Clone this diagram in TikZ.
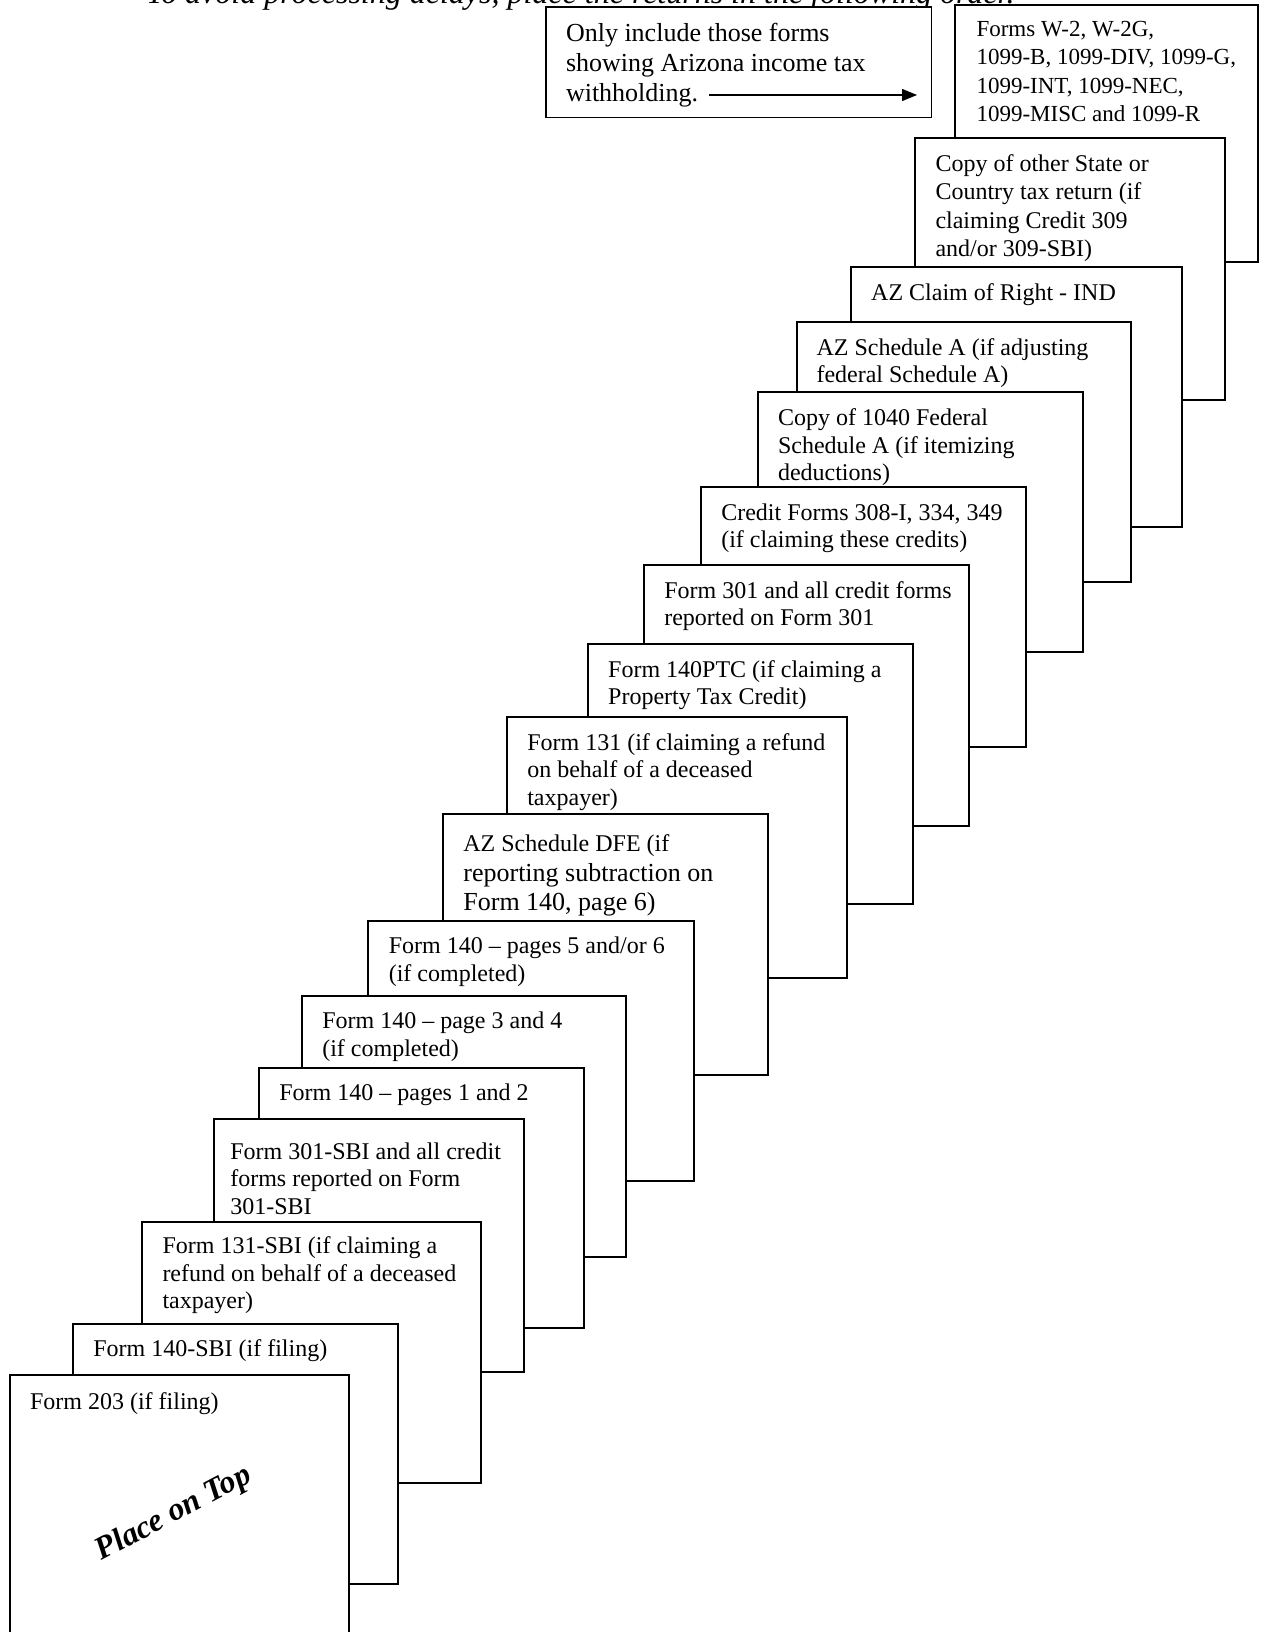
\documentclass[tikz,border=0pt]{standalone}
\usepackage{fontspec}
\setmainfont{Liberation Serif}
\usetikzlibrary{arrows.meta}
\newcommand\tlines[1]{\begin{tabular}[t]{@{}l@{}}#1\end{tabular}}
\tikzset{
  formbox/.style={draw=black, line width=1pt, fill=white, inner sep=0pt, outer sep=0pt, anchor=north west},
  notebox/.style={draw=black, line width=0.6pt, fill=white, inner sep=0pt, outer sep=0pt, anchor=north west},
  formtext/.style={inner sep=0pt, outer sep=0pt, anchor=base west, font=\fontsize{12}{13.8}\selectfont},
  notearrow/.style={line width=0.65pt, -{Triangle[length=7.5pt,width=6pt]}},
}
% #1 extra text style, #2 name, #3 L, #4 T, #5 R, #6 B, #7 text inset (px), #8 first baseline (px), #9 text
\newcommand\stackpage[9][]{%
  \node[formbox, minimum width={(#5-#3)*0.5pt}, minimum height={(#6-#4)*0.5pt}] (#2) at (#3,#4) {};
  \node[formtext, #1] (#2-text) at ([xshift={#7*0.5pt}, yshift={-#8*0.5pt}]#2.north west) {\tlines{#9}};
}
\begin{document}
\begin{tikzpicture}[x=0.5pt, y=-0.5pt]
\useasboundingbox (0,0) rectangle (1264,1632);

% title (cut off by the top edge)
\node[inner sep=0pt, anchor=base west, font=\fontsize{16}{18}\selectfont\itshape] (title) at (146,4)
  {To avoid processing delays, place the returns in the following order.};

% note box with arrow
\node[notebox, minimum width={(931.5-546)*0.5pt}, minimum height={(117.5-7)*0.5pt}] (note) at (546,7) {};
\node[formtext, font=\fontsize{13}{15}\selectfont] (note-text) at ([xshift=10pt, yshift=-17.35pt]note.north west)
  {\tlines{Only include those forms\\ showing Arizona income tax\\ withholding.}};
\coordinate (arrS) at (709,95);
\coordinate (arrE) at (917,95);
\draw[notearrow] (arrS) -- (arrE);

% stack of forms, back to front
\stackpage[font=\fontsize{11.5}{14.15}\selectfont]{w2}{955}{5}{1258}{262}{21.5}{31.7}%
  {Forms W-2, W-2G,\\ 1099-B, 1099-DIV, 1099-G,\\ 1099-INT, 1099-NEC,\\ 1099-MISC and 1099-R}
\stackpage[font=\fontsize{12}{14.15}\selectfont]{other}{915}{138}{1224.5}{400}{20.5}{33.7}%
  {Copy of other State or\\ Country tax return (if\\ claiming Credit 309\\ and/or 309-SBI)}
\stackpage{claim}{850.7}{266.7}{1181.5}{526.7}{20.5}{33.3}%
  {AZ Claim of Right - IND}
\stackpage{schA}{796.5}{321.7}{1131}{581.7}{20}{33.3}%
  {AZ Schedule A (if adjusting\\ federal Schedule A)}
\stackpage{fed}{757.5}{391.5}{1082.8}{651.7}{20.5}{34}%
  {Copy of 1040 Federal\\ Schedule A (if itemizing\\ deductions)}
\stackpage{credit}{700.8}{487.3}{1026.2}{747}{20.5}{33}%
  {Credit Forms 308-I, 334, 349\\ (if claiming these credits)}
\stackpage{f301}{643.8}{565.3}{969}{826}{20.5}{33}%
  {Form 301 and all credit forms\\ reported on Form 301}
\stackpage{ptc}{587.7}{644.3}{913}{904.3}{20.5}{33}%
  {Form 140PTC (if claiming a\\ Property Tax Credit)}
\stackpage{f131}{506.8}{717.3}{847}{977.7}{20.5}{33}%
  {Form 131 (if claiming a refund\\ on behalf of a deceased\\ taxpayer)}
\stackpage[font=\fontsize{12}{14.8}\selectfont]{dfe}{442.9}{814.3}{767.9}{1075}{20.5}{37.4}%
  {AZ Schedule DFE (if\\ \fontsize{13}{14.8}\selectfont reporting subtraction on\\ \fontsize{13}{14.8}\selectfont Form 140, page 6)}
\stackpage{p56}{368.3}{920.7}{693.8}{1181}{20.5}{33}%
  {Form 140 -- pages 5 and/or 6\\ (if completed)}
\stackpage{p34}{301.8}{995.7}{626.3}{1256.7}{20.5}{33}%
  {Form 140 -- page 3 and 4\\ (if completed)}
\stackpage{p12}{258.9}{1067.7}{584}{1328.3}{20.5}{32.5}%
  {Form 140 -- pages 1 and 2}
\stackpage{sbi301}{213.8}{1119}{524.4}{1371.7}{16.5}{40}%
  {Form 301-SBI and all credit\\ forms reported on Form\\ 301-SBI}
\stackpage{sbi131}{142}{1222}{481.3}{1482.7}{20.5}{31.5}%
  {Form 131-SBI (if claiming a\\ refund on behalf of a deceased\\ taxpayer)}
\stackpage{sbi140}{72.8}{1323.7}{397.8}{1584}{20.5}{32.5}%
  {Form 140-SBI (if filing)}
\stackpage{f203}{9.5}{1375}{349}{1700}{20.5}{34.3}%
  {Form 203 (if filing)}

\node[inner sep=0pt, rotate=28, anchor=base, font=\fontsize{16}{18}\selectfont\bfseries\itshape] (ptop) at (177.5,1520.7) {Place on Top};
\end{tikzpicture}
\end{document}
